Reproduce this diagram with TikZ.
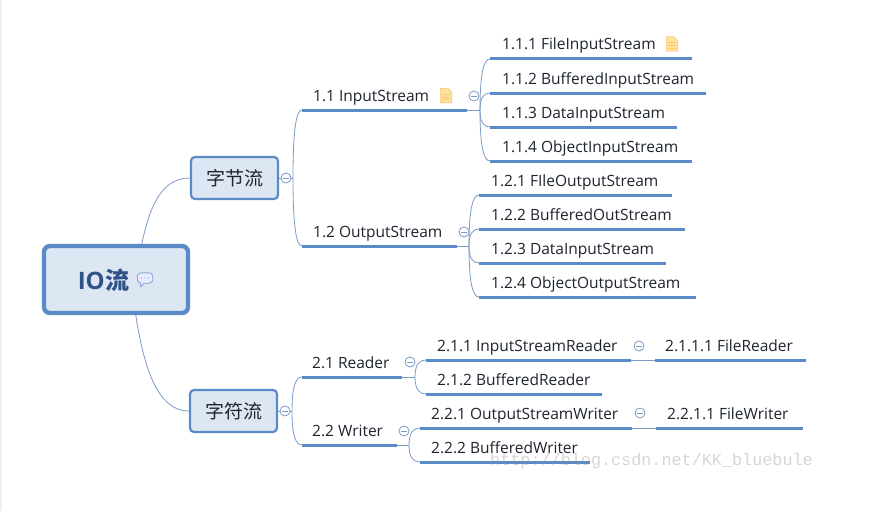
\documentclass[tikz,border=0pt]{standalone}
\usepackage{fontspec}
\setmainfont{Open Sans}
\newfontfamily\cjk{Noto Sans CJK SC}
\newfontfamily\wmfont{Liberation Mono}
\usetikzlibrary{calc}
\definecolor{lineblue}{HTML}{5B8BC6}
\definecolor{thinblue}{HTML}{7C9AC8}
\definecolor{boxfill}{HTML}{DDE7F3}
\definecolor{roottext}{HTML}{2F5288}
\definecolor{ink}{HTML}{1E2430}
\definecolor{docfill}{HTML}{FFE3A0}
\definecolor{docedge}{HTML}{F9C76B}
\tikzset{
  ubox/.style={inner sep=0pt,minimum height=20pt,anchor=south west},
  lab/.style={inner sep=0pt,anchor=base west,text=ink,font=\fontsize{15.5}{17}\selectfont},
  ul/.style={draw=lineblue,line width=3pt},
  conn/.style={draw=thinblue,line width=0.8pt},
  subj/.style={draw=lineblue,line width=2.2pt,fill=boxfill,rounded corners=4pt,minimum width=87pt,minimum height=42pt,inner sep=0pt,text=ink,font=\cjk\fontsize{19}{22}\selectfont},
  rootbox/.style={draw=lineblue,line width=4.4pt,fill=boxfill,rounded corners=6pt,minimum width=144pt,minimum height=67pt,inner sep=0pt},
  fold/.style={circle,draw=thinblue,line width=0.8pt,fill=white,minimum size=10pt,inner sep=0pt,
    path picture={\draw[thinblue,line width=0.8pt] ($(path picture bounding box.center)+(-2.8pt,0)$) -- ($(path picture bounding box.center)+(2.8pt,0)$);}},
}
% name, x1, x2, yline, text x, text
\newcommand{\topicline}[6]{%
  \node[ubox,minimum width=#3pt-#2pt] (#1) at (#2,#4) {};
  \node[lab] (#1-t) at (#5,#4-9) {#6};
  \draw[ul] (#1.south west) -- (#1.south east);
}
\newcommand{\noteicon}[3]{% name, cx, cy
  \node[inner sep=0pt,minimum width=11pt,minimum height=14pt] (#1) at (#2,#3) {};
  \fill[docfill,draw=docedge,line width=0.6pt] (#1.south west) -- (#1.north west) -- ($(#1.north east)+(-4pt,0)$) -- ($(#1.north east)+(0,-4pt)$) -- (#1.south east) -- cycle;
  \foreach \f in {0.42,0.6,0.78}{\draw[docedge,line width=0.8pt] ($(#1.north west)!\f!(#1.south west)+(2pt,0)$) -- ($(#1.north east)!\f!(#1.south east)+(-2pt,0)$);}
}
\newcommand{\corner}[2]{\draw[conn] (#1) .. controls ($(#1)!0.75!(#1 |- #2.south west)$) and ($(#2.south west)!0.6!(#1 |- #2.south west)$) .. (#2.south west);}
\begin{document}
\begin{tikzpicture}[x=1pt,y=-1pt]
\useasboundingbox (0,0) rectangle (880,511);
\fill[white] (0,0) rectangle (880,511);
\fill[black!6] (0,0) rectangle (1.5,511);

% subject and root boxes
\node[rootbox] (root) at (116,279.5) {};
\node[inner sep=0pt,anchor=base east,text=roottext,font=\bfseries\fontsize{24}{28}\selectfont] (rootio) at (105,289) {IO};
\node[inner sep=0pt,anchor=base west,text=roottext,font=\cjk\bfseries\fontsize{24}{28}\selectfont] (rootliu) at (105,289) {流};
\node[subj] (a) at (234.5,178) {字节流};
\node[subj] (b) at (233.5,411) {字符流};

% topics
\topicline{t11}{302}{467}{110}{313}{1.1 InputStream}
\topicline{t111}{490}{692}{59}{502}{1.1.1 FileInputStream}
\topicline{t112}{490}{706}{93}{502}{1.1.2 BufferedInputStream}
\topicline{t113}{490}{677}{127}{502}{1.1.3 DataInputStream}
\topicline{t114}{490}{692}{161}{502}{1.1.4 ObjectInputStream}
\topicline{t12}{302}{457}{246}{313}{1.2 OutputStream}
\topicline{t121}{479}{672}{195}{491}{1.2.1 FIleOutputStream}
\topicline{t122}{479}{685}{229}{491}{1.2.2 BufferedOutStream}
\topicline{t123}{479}{666}{263}{491}{1.2.3 DataInputStream}
\topicline{t124}{479}{696}{297}{491}{1.2.4 ObjectOutputStream}
\topicline{t21}{302}{402}{377}{312}{2.1 Reader}
\topicline{t211}{426}{631}{360}{437}{2.1.1 InputStreamReader}
\topicline{t2111}{655}{806}{360}{665}{2.1.1.1 FileReader}
\topicline{t212}{426}{602}{394}{437}{2.1.2 BufferedReader}
\topicline{t22}{302}{397}{445}{312}{2.2 Writer}
\topicline{t221}{420}{632}{428}{431}{2.2.1 OutputStreamWriter}
\topicline{t2211}{656}{803}{428}{667}{2.2.1.1 FileWriter}
\topicline{t222}{420}{590}{462}{431}{2.2.2 BufferedWriter}

% split points
\coordinate (sa) at (293,178);
\coordinate (sb) at (292,411);
\coordinate (s11) at (480,110);
\coordinate (s12) at (469,246);
\coordinate (s21) at (415,377);
\coordinate (s22) at (409,445);

% connectors
\draw[conn] ($(root.north west)+(100,0)$) .. controls (150,205) and (162,178) .. (a.west);
\draw[conn] ($(root.south west)+(94,0)$) .. controls (145,375) and (160,411) .. (b.west);
\draw[conn] (a.east) -- (sa);
\draw[conn] (b.east) -- (sb);
\corner{sa}{t11}\corner{sa}{t12}
\corner{sb}{t21}\corner{sb}{t22}
\draw[conn] (t11.south east) -- (s11);
\corner{s11}{t111}\corner{s11}{t112}\corner{s11}{t113}\corner{s11}{t114}
\draw[conn] (t12.south east) -- (s12);
\corner{s12}{t121}\corner{s12}{t122}\corner{s12}{t123}\corner{s12}{t124}
\draw[conn] (t21.south east) -- (s21);
\corner{s21}{t211}\corner{s21}{t212}
\draw[conn] (t22.south east) -- (s22);
\corner{s22}{t221}\corner{s22}{t222}
\draw[conn] (t211.south east) -- (t2111.south west);
\draw[conn] (t221.south east) -- (t2211.south west);

% fold markers
\node[fold] (fa) at (286,178) {};
\node[fold] (fb) at (285,411) {};
\node[fold] (f11) at (474,96) {};
\node[fold] (f12) at (464,232) {};
\node[fold] (f21) at (410,362) {};
\node[fold] (f22) at (404,431) {};
\node[fold] (f211) at (639,346) {};
\node[fold] (f221) at (640,413) {};

% icons
\noteicon{n1}{446}{95.5}
\noteicon{n2}{672}{44}
\node[inner sep=0pt,minimum width=15pt,minimum height=10pt] (bub) at (145,278) {};
\filldraw[fill=blue!8,draw=lineblue!75,line width=0.9pt,rounded corners=3.5pt]
  (bub.south west) -- (bub.north west) -- (bub.north east) -- (bub.south east) -- cycle;
\draw[lineblue!75,fill=blue!8,line width=0.9pt] ($(bub.south west)+(3,0)$) -- ($(bub.south west)+(3.5,3.5)$) -- ($(bub.south west)+(7,0)$);
\foreach \d in {-3.5,0,3.5}{\fill[lineblue!75] ($(bub.center)+(\d,0)$) circle (0.7pt);}

% watermark
\node[inner sep=0pt,anchor=base west,text=black!45,opacity=0.35,font=\wmfont\fontsize{16.8}{20}\selectfont] (wm) at (490,465) {http://blog.csdn.net/KK\_bluebule};
\end{tikzpicture}
\end{document}
